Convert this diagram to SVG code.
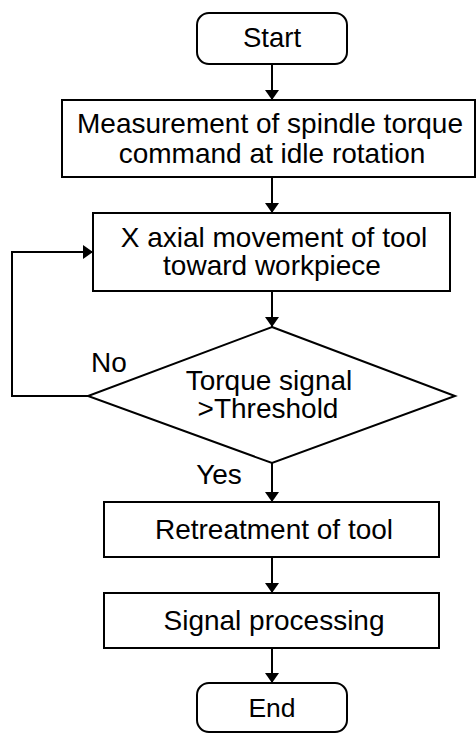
<svg xmlns="http://www.w3.org/2000/svg" width="476" height="733" viewBox="0 0 476 733">
<defs>
<marker id="ah" markerWidth="10" markerHeight="14" refX="10" refY="7" orient="auto" markerUnits="userSpaceOnUse">
<path d="M0,0 L10,7 L0,14 Z" fill="#000"/>
</marker>
<style>
.s{fill:#fff;stroke:#000;stroke-width:2}
.t{font-family:"Liberation Sans",Arial,sans-serif;font-size:28px;fill:#000;text-anchor:middle}
.c{fill:none;stroke:#000;stroke-width:2;marker-end:url(#ah)}
</style>
</defs>
<rect width="476" height="733" fill="#fff"/>
<g id="connectors">
<line class="c" x1="272" y1="64" x2="272" y2="100"/>
<line class="c" x1="272" y1="177" x2="272" y2="213"/>
<line class="c" x1="272" y1="291" x2="272" y2="327"/>
<polyline class="c" points="88,396 12,396 12,252 93,252"/>
<line class="c" x1="272" y1="463" x2="272" y2="502"/>
<line class="c" x1="272" y1="557" x2="272" y2="593"/>
<line class="c" x1="272" y1="648" x2="272" y2="683"/>
</g>
<g id="start">
<rect class="s" x="197" y="13" width="150" height="51" rx="12"/>
<text class="t" x="272" y="47" style="font-size:27.5px">Start</text>
</g>
<g id="measure">
<rect class="s" x="62" y="100" width="413" height="77"/>
<text class="t" x="270" y="133">Measurement of spindle torque</text>
<text class="t" x="272" y="163">command at idle rotation</text>
</g>
<g id="move">
<rect class="s" x="93" y="213" width="357" height="78"/>
<text class="t" x="274" y="247">X axial movement of tool</text>
<text class="t" x="272" y="275">toward workpiece</text>
</g>
<g id="decision">
<polygon class="s" points="272,327 455,396 272,463 88,396"/>
<text class="t" x="269" y="390">Torque signal</text>
<text class="t" x="268" y="418">&gt;Threshold</text>
<text class="t" x="109" y="372">No</text>
<text class="t" x="219" y="484">Yes</text>
</g>
<g id="retreat">
<rect class="s" x="104" y="502" width="335" height="55"/>
<text class="t" x="274" y="539">Retreatment of tool</text>
</g>
<g id="signal">
<rect class="s" x="104" y="593" width="335" height="55"/>
<text class="t" x="274" y="630">Signal processing</text>
</g>
<g id="end">
<rect class="s" x="197" y="683" width="150" height="49" rx="12"/>
<text class="t" x="272" y="717" style="font-size:26.5px">End</text>
</g>
</svg>
